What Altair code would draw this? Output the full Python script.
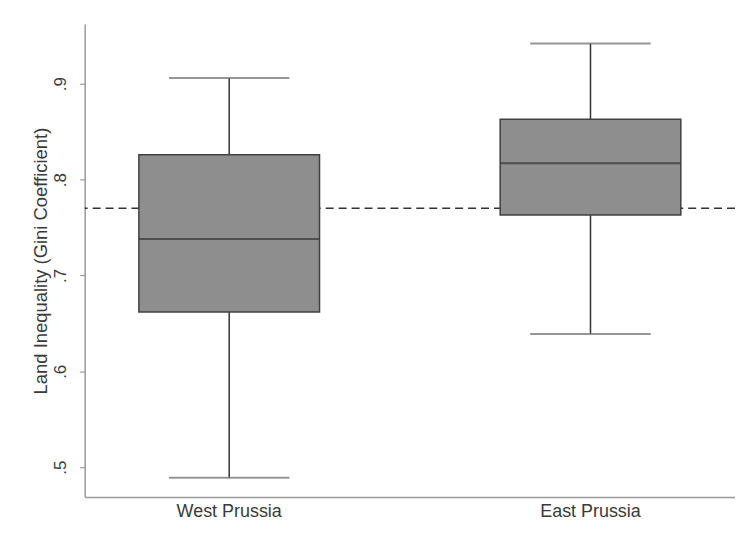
import altair as alt
import pandas as pd

# ---- data ----
groups = ["West Prussia", "East Prussia"]
lower_whisker = [0.489, 0.639]
q1 = [0.662, 0.763]
median = [0.738, 0.817]
q3 = [0.826, 0.863]
upper_whisker = [0.906, 0.942]
reference_value = 0.770
y_ticks = [0.5, 0.6, 0.7, 0.8, 0.9]
y_domain = [0.4688, 0.9623]

df = pd.DataFrame({
    "group": groups,
    "lo": lower_whisker,
    "q1": q1,
    "med": median,
    "q3": q3,
    "hi": upper_whisker,
})
ref_df = pd.DataFrame({"ref": [reference_value]})

FONT = "Liberation Sans"
TEXT = "#3a3a3a"
AXIS = "#9a9a9a"

x_enc = alt.X(
    "group:N",
    sort=groups,
    title=None,
    scale=alt.Scale(paddingInner=0.5, paddingOuter=0.15),
    axis=alt.Axis(
        labelAngle=0, ticks=False, labelPadding=6, labelFontSize=18,
        labelFont=FONT, labelColor=TEXT, domainColor=AXIS, domainWidth=1.5,
    ),
)
y_scale = alt.Scale(domain=y_domain, nice=False, zero=False)
y_axis = alt.Axis(
    values=y_ticks,
    labelExpr="replace(format(datum.value, '.1f'), '0.', '.')",
    labelAngle=-90, labelAlign="center", labelBaseline="bottom",
    labelPadding=10, labelFontSize=17, labelFont=FONT, labelColor=TEXT,
    tickSize=5, tickColor=AXIS, tickWidth=1.2,
    domainColor=AXIS, domainWidth=1.5, grid=False,
    title="Land Inequality (Gini Coefficient)",
    titleFont=FONT, titleFontSize=18.5, titleFontWeight="normal",
    titleColor=TEXT, titlePadding=1,
)

base = alt.Chart(df)

ref_rule = alt.Chart(ref_df).mark_rule(
    color="#333333", strokeWidth=1.5, strokeDash=[8, 5]
).encode(y=alt.Y("ref:Q", scale=y_scale, axis=y_axis))

upper = base.mark_rule(color="#333333", strokeWidth=1.5).encode(
    x=x_enc, y=alt.Y("q3:Q", scale=y_scale, axis=y_axis), y2="hi:Q"
)
lower = base.mark_rule(color="#333333", strokeWidth=1.5).encode(
    x=x_enc, y=alt.Y("lo:Q", scale=y_scale, axis=y_axis), y2="q1:Q"
)
cap_hi = base.mark_tick(color="#6a6a6a", thickness=2, size=121).encode(
    x=x_enc, y=alt.Y("hi:Q", scale=y_scale, axis=y_axis)
)
cap_lo = base.mark_tick(color="#6a6a6a", thickness=2, size=121).encode(
    x=x_enc, y=alt.Y("lo:Q", scale=y_scale, axis=y_axis)
)
box = base.mark_bar(
    color="#8e8e8e", stroke="#404040", strokeWidth=1.5
).encode(x=x_enc, y=alt.Y("q1:Q", scale=y_scale, axis=y_axis), y2="q3:Q")
med = base.mark_tick(color="#333333", thickness=2, size=181).encode(
    x=x_enc, y=alt.Y("med:Q", scale=y_scale, axis=y_axis)
)

chart = alt.layer(ref_rule, upper, lower, cap_hi, cap_lo, box, med).properties(
    width=653,
    height=475,
    autosize=alt.AutoSizeParams(type="none"),
    padding={"left": 77, "top": 15, "right": 0, "bottom": 40},
    background="white",
).configure_view(stroke=None)

chart.save("out.html", embed_options={"renderer": "svg", "actions": False})
